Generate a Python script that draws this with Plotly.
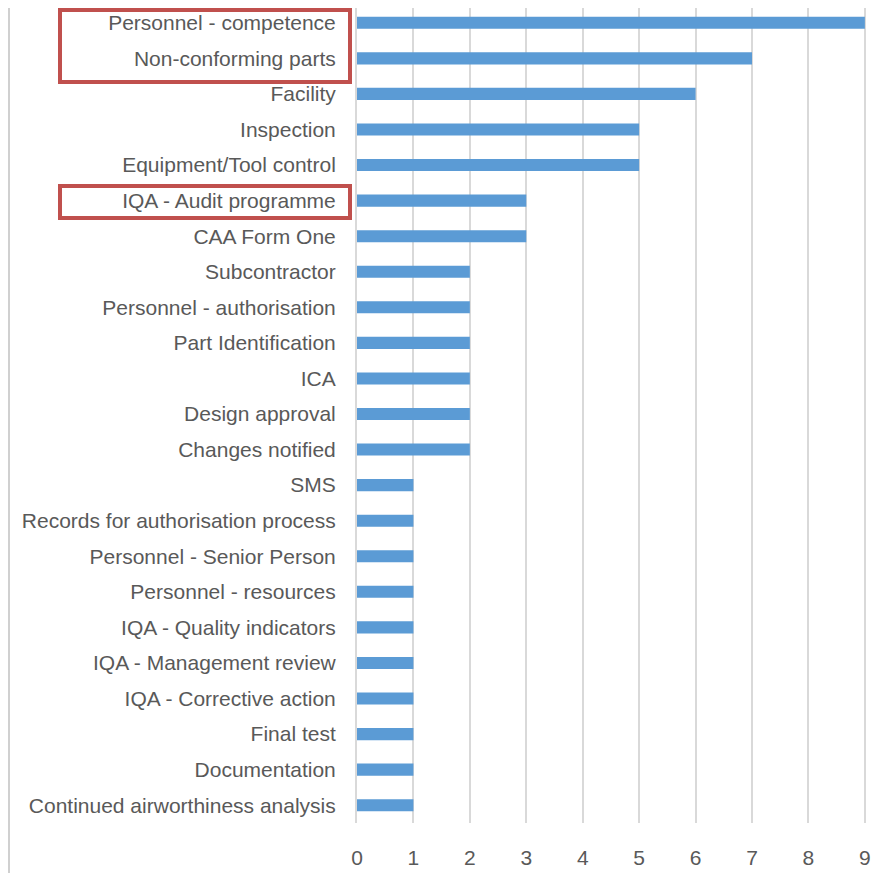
import plotly.graph_objects as go

categories = [
    "Personnel - competence", "Non-conforming parts", "Facility", "Inspection",
    "Equipment/Tool control", "IQA - Audit programme", "CAA Form One", "Subcontractor",
    "Personnel - authorisation", "Part Identification", "ICA", "Design approval",
    "Changes notified", "SMS", "Records for authorisation process",
    "Personnel - Senior Person", "Personnel - resources", "IQA - Quality indicators",
    "IQA - Management review", "IQA - Corrective action", "Final test",
    "Documentation", "Continued airworthiness analysis",
]
values = [9, 7, 6, 5, 5, 3, 3, 2, 2, 2, 2, 2, 2, 1, 1, 1, 1, 1, 1, 1, 1, 1, 1]
x_ticks = [0, 1, 2, 3, 4, 5, 6, 7, 8, 9]

# page body has an 8px margin; figure coordinates are offset accordingly
OFF = 8
W, H = 877, 865
L, R, T, B = 349, 19, 0, 50
pw, ph = W - L - R, H - T - B

def px_x(p):
    return (p - OFF - L) / pw

def px_y(p):
    return 1 - (p - OFF - T) / ph

font_family = "Liberation Sans, Arial, sans-serif"
fsize = 21

fig = go.Figure(go.Bar(
    x=values, y=categories, orientation="h",
    marker=dict(color="#5B9BD5", line=dict(width=0)),
))

fig.update_layout(
    width=W, height=H,
    margin=dict(l=L, r=R, t=T, b=B, autoexpand=False),
    paper_bgcolor="white", plot_bgcolor="white",
    bargap=0.66,
    showlegend=False,
    font=dict(family=font_family, size=fsize, color="#595959"),
    xaxis=dict(
        range=[0, 9.02], tickvals=x_ticks, showgrid=True, gridcolor="#D9D9D9",
        gridwidth=2, zeroline=False, showline=False, ticks="",
        ticklabelstandoff=20, tickfont=dict(size=fsize, color="#595959"),
    ),
    yaxis=dict(
        categoryorder="array", categoryarray=categories,
        range=[22.5, -0.4157], autorange=False,
        showgrid=False, zeroline=False, showline=True, linecolor="#D9D9D9", linewidth=2,
        ticks="", ticklabelstandoff=15, tickfont=dict(size=fsize, color="#595959"),
    ),
    shapes=[
        dict(type="line", xref="paper", yref="paper",
             x0=px_x(9), x1=px_x(9), y0=px_y(8), y1=px_y(873),
             line=dict(color="#D0D0D0", width=2)),
        dict(type="rect", xref="paper", yref="paper",
             x0=px_x(60), x1=px_x(350), y0=px_y(10), y1=px_y(82),
             line=dict(color="#C0504D", width=4)),
        dict(type="rect", xref="paper", yref="paper",
             x0=px_x(60), x1=px_x(350), y0=px_y(186), y1=px_y(218),
             line=dict(color="#C0504D", width=4)),
    ],
)

fig.write_html("out.html")
